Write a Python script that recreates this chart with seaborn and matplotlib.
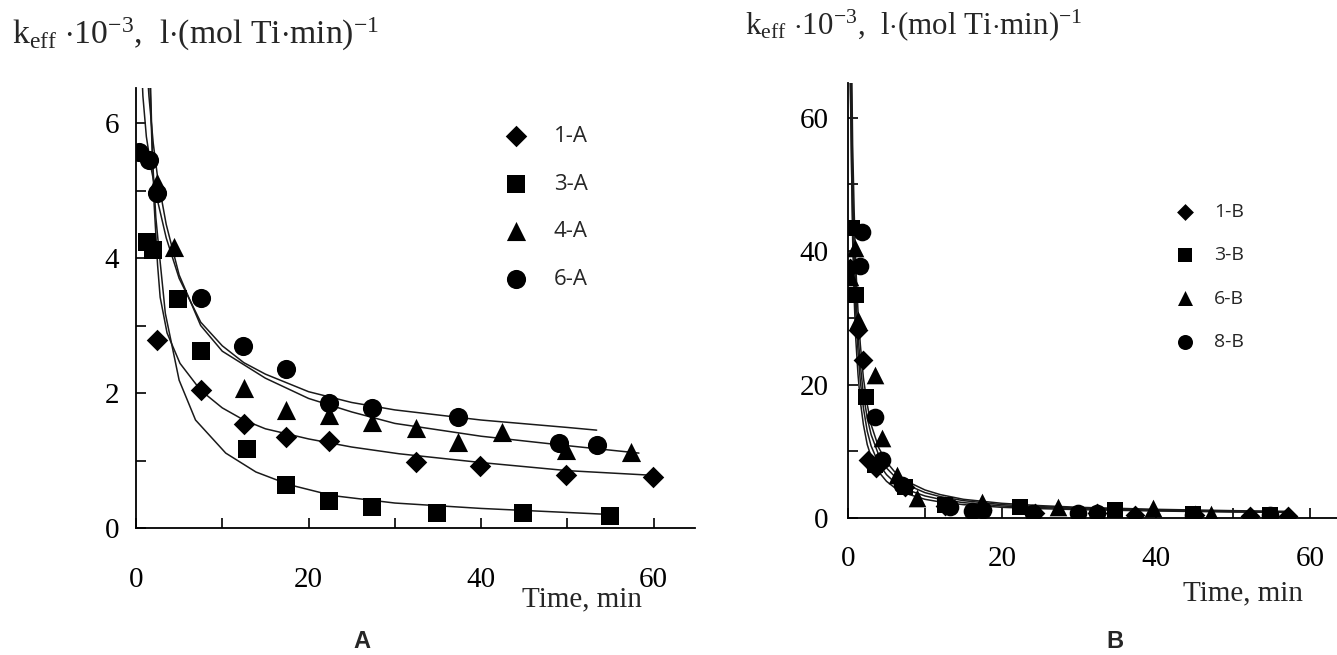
import numpy as np
import pandas as pd
import seaborn as sns
import matplotlib.pyplot as plt
from matplotlib.ticker import MultipleLocator

sns.set_theme(style="white")
plt.rcParams['font.family'] = ['Liberation Serif', 'DejaVu Serif']
plt.rcParams['mathtext.fontset'] = 'custom'
plt.rcParams['mathtext.rm'] = 'Liberation Serif'
plt.rcParams['mathtext.it'] = 'Liberation Serif:italic'

# ---------------- Panel A data (points) ----------------
t_1A = [2.4, 7.5, 12.5, 17.4, 22.4, 32.4, 39.9, 49.9, 59.9]
k_1A = [2.79, 2.04, 1.54, 1.35, 1.29, 0.98, 0.92, 0.79, 0.76]
t_3A = [1.3, 2.0, 4.9, 7.5, 12.9, 17.4, 22.4, 27.4, 34.9, 44.9, 54.9]
k_3A = [4.24, 4.12, 3.39, 2.62, 1.17, 0.64, 0.40, 0.31, 0.22, 0.22, 0.18]
t_4A = [2.4, 4.4, 12.5, 17.4, 22.4, 27.3, 32.4, 37.3, 42.4, 49.8, 57.4]
k_4A = [5.11, 4.17, 2.07, 1.75, 1.67, 1.57, 1.48, 1.27, 1.42, 1.16, 1.13]
t_6A = [0.3, 1.5, 2.4, 7.5, 12.4, 17.4, 22.4, 27.4, 37.3, 49.0, 53.4]
k_6A = [5.57, 5.45, 4.96, 3.41, 2.69, 2.35, 1.85, 1.78, 1.64, 1.26, 1.23]

# Panel A fitted curves
ft_1A = [1.6, 1.8, 2.1, 2.5, 2.8, 3.6, 5.1, 7.5, 10, 12.5, 15, 20, 25, 30.5, 40, 50, 60]
fk_1A = [7.0, 6.0, 4.8, 3.9, 3.42, 2.89, 2.44, 2.04, 1.78, 1.60, 1.47, 1.32, 1.20, 1.10, 0.97, 0.85, 0.78]
ft_3A = [1.5, 1.9, 2.3, 2.7, 3.4, 5.0, 6.9, 10.4, 13.9, 17.8, 22.8, 30, 40, 50, 55]
fk_3A = [7.0, 5.5, 4.6, 4.07, 3.18, 2.19, 1.60, 1.11, 0.83, 0.64, 0.48, 0.37, 0.29, 0.23, 0.20]
ft_4A = [1.2, 1.5, 2.0, 2.5, 3.5, 5, 7.5, 10, 12.5, 15, 20, 25, 30, 40, 50, 58.3]
fk_4A = [7.0, 6.4, 5.7, 5.2, 4.5, 3.75, 3.0, 2.62, 2.42, 2.22, 1.92, 1.72, 1.55, 1.36, 1.22, 1.11]
ft_6A = [0.6, 0.8, 1.2, 1.8, 2.5, 3.5, 5, 7.5, 10, 12.5, 15, 20, 25, 30, 40, 50, 53.4]
fk_6A = [7.0, 6.4, 5.8, 5.3, 4.85, 4.3, 3.7, 3.05, 2.7, 2.45, 2.28, 2.02, 1.86, 1.75, 1.60, 1.49, 1.45]

# ---------------- Panel B data (points) ----------------
t_1B = [0.2, 1.3, 2.0, 2.6, 3.7, 7.4, 12.6, 17.4, 24.3, 32.3, 37.3, 45.0, 52.2, 57.1]
k_1B = [37.5, 28.2, 23.7, 8.7, 7.5, 4.7, 1.8, 1.2, 0.7, 0.75, 0.45, 0.5, 0.3, 0.3]
t_3B = [0.5, 1.0, 2.4, 3.5, 7.4, 12.6, 22.3, 34.7, 44.8, 54.8]
k_3B = [43.5, 33.4, 18.2, 8.0, 4.7, 1.95, 1.7, 1.2, 0.6, 0.4]
t_6B = [0.2, 0.9, 1.3, 3.5, 4.4, 6.3, 8.9, 17.4, 27.3, 39.6, 47.2]
k_6B = [36.1, 40.5, 29.7, 21.5, 12.0, 6.5, 3.0, 2.4, 1.7, 1.5, 0.6]
t_8B = [1.8, 1.6, 3.5, 4.4, 7.0, 13.2, 16.1, 17.5, 24.0, 29.9, 32.3, 44.8, 54.8]
k_8B = [42.9, 37.8, 15.2, 8.7, 5.0, 1.7, 1.0, 1.2, 0.8, 0.75, 0.75, 0.45, 0.4]

# Panel B fitted curves
ft_1B = [0.4, 0.6, 0.8, 1, 1.3, 1.6, 2, 2.5, 3, 4, 5, 6, 7, 8, 10, 12, 15, 20, 25, 30, 40, 50, 57]
fk_1B = [66, 50, 41, 34, 27.5, 23, 18.5, 15, 12.5, 9.4, 7.5, 6.3, 5.4, 4.8, 3.8, 3.2, 2.6, 2.0, 1.7, 1.5, 1.2, 1.0, 0.9]
ft_3B = [0.25, 0.4, 0.6, 0.8, 1, 1.3, 1.6, 2, 2.5, 3, 4, 5, 6, 7, 8, 10, 12, 15, 20, 25, 30, 40, 50, 57]
fk_3B = [68, 58, 42, 33, 27, 21.5, 17.5, 14, 11, 9.2, 6.9, 5.5, 4.6, 4.0, 3.5, 2.8, 2.4, 2.0, 1.6, 1.4, 1.25, 1.05, 0.9, 0.85]
ft_6B = [0.5, 0.6, 0.8, 1, 1.3, 1.6, 2, 2.5, 3, 4, 5, 6, 7, 8, 10, 12, 15, 20, 25, 30, 40, 50, 57]
fk_6B = [66, 56, 46, 38, 31, 26, 21, 17, 14, 10.5, 8.4, 7.0, 6.0, 5.3, 4.2, 3.5, 2.8, 2.2, 1.85, 1.6, 1.3, 1.1, 1.0]
ft_8B = [0.3, 0.5, 0.7, 1, 1.3, 1.6, 2, 2.5, 3, 4, 5, 6, 7, 8, 10, 12, 15, 20, 25, 30, 40, 50, 57]
fk_8B = [67, 50, 40, 31, 25, 20.5, 16.5, 13, 10.8, 8.1, 6.5, 5.4, 4.7, 4.1, 3.3, 2.8, 2.3, 1.8, 1.55, 1.4, 1.15, 0.95, 0.88]

labels_A = ['1-A', '3-A', '4-A', '6-A']
labels_B = ['1-B', '3-B', '6-B', '8-B']
markers = ['D', 's', '^', 'o']
msizes = [120, 150, 190, 190]

pts_A = [(t_1A, k_1A), (t_3A, k_3A), (t_4A, k_4A), (t_6A, k_6A)]
fit_A = [(ft_1A, fk_1A), (ft_3A, fk_3A), (ft_4A, fk_4A), (ft_6A, fk_6A)]
pts_B = [(t_1B, k_1B), (t_3B, k_3B), (t_6B, k_6B), (t_8B, k_8B)]
fit_B = [(ft_1B, fk_1B), (ft_3B, fk_3B), (ft_6B, fk_6B), (ft_8B, fk_8B)]

W, H = 1337, 655
fig = plt.figure(figsize=(W / 100, H / 100), dpi=100)
fig.patch.set_facecolor('white')

def px_axes(l, t, r, b):
    return fig.add_axes([l / W, 1 - b / H, (r - l) / W, (b - t) / H])

axA = px_axes(136, 88, 695, 528)
axB = px_axes(848, 83, 1337, 518)

def draw(ax, pts, fits, labels, msz_scale):
    for (ft, fk) in fits:
        d = pd.DataFrame({'t': ft, 'k': fk})
        sns.lineplot(data=d, x='t', y='k', ax=ax, color='#1a1a1a', lw=1.1,
                     sort=False, estimator=None, zorder=2)
    for (t, k), lab, m, s in zip(pts, labels, markers, msizes):
        d = pd.DataFrame({'t': t, 'k': k})
        sns.scatterplot(data=d, x='t', y='k', ax=ax, marker=m, s=s * msz_scale,
                        color='black', edgecolor='black', linewidth=0,
                        label=lab, zorder=3, clip_on=True)
    for sp in ['top', 'right']:
        ax.spines[sp].set_visible(False)
    for sp in ['left', 'bottom']:
        ax.spines[sp].set_color('black')
        ax.spines[sp].set_linewidth(1.3)
    ax.set_facecolor('white')
    ax.set_xlabel('')
    ax.set_ylabel('')

draw(axA, pts_A, fit_A, labels_A, 1.0)
draw(axB, pts_B, fit_B, labels_B, 0.85)

# Axis A
axA.set_xlim(0, 64.8)
axA.set_ylim(0, 6.52)
axA.xaxis.set_major_locator(MultipleLocator(20))
axA.xaxis.set_minor_locator(MultipleLocator(10))
axA.yaxis.set_major_locator(MultipleLocator(2))
axA.yaxis.set_minor_locator(MultipleLocator(1))
axA.tick_params(axis='both', which='both', direction='in', length=7, width=1.2,
                colors='black', labelsize=21)
axA.tick_params(axis='x', which='both', pad=28, bottom=True)
axA.tick_params(axis='y', which='both', pad=12, left=True)

# Axis B
axB.set_xlim(0, 63.5)
axB.set_ylim(0, 65.2)
axB.xaxis.set_major_locator(MultipleLocator(20))
axB.xaxis.set_minor_locator(MultipleLocator(10))
axB.yaxis.set_major_locator(MultipleLocator(20))
axB.yaxis.set_minor_locator(MultipleLocator(10))
axB.tick_params(axis='both', which='both', direction='in', length=7, width=1.2,
                colors='black', labelsize=21)
axB.tick_params(axis='x', which='both', pad=20, bottom=True)
axB.tick_params(axis='y', which='both', pad=14, left=True)

for ax in (axA, axB):
    ax.tick_params(axis='x', which='minor', labelbottom=False)
    ax.tick_params(axis='y', which='minor', labelleft=False)

axA.set_xlabel('Time, min', fontsize=21)
axA.xaxis.set_label_coords((582 - 136) / 559, (528 - 586) / 440)
axB.set_xlabel('Time, min', fontsize=21)
axB.xaxis.set_label_coords((1243 - 848) / 489, (518 - 580) / 435)

# Legends
hA, lA = axA.get_legend_handles_labels()
axA.legend(hA, lA, loc='upper left', bbox_to_anchor=(505 / W, 1 - 126 / H),
           bbox_transform=fig.transFigure, frameon=False, borderpad=0,
           borderaxespad=0, handlelength=1.0, handletextpad=1.2,
           labelspacing=1.2, prop={'family': 'Open Sans', 'size': 16},
           markerscale=1.0)
hB, lB = axB.get_legend_handles_labels()
axB.legend(hB, lB, loc='upper left', bbox_to_anchor=(1177 / W, 1 - 203 / H),
           bbox_transform=fig.transFigure, frameon=False, borderpad=0,
           borderaxespad=0, handlelength=0.8, handletextpad=1.1,
           labelspacing=1.3, prop={'family': 'Open Sans', 'size': 14},
           markerscale=0.85)

# Titles (y-axis quantity)
ylab = r'k$_{\mathrm{eff}}$ $\cdot$10$^{\mathrm{-3}}$,  l$\cdot$(mol Ti$\cdot$min)$^{\mathrm{-1}}$'
fig.text(12 / W, 1 - 44 / H, ylab, fontsize=24.3, ha='left', va='baseline')
fig.text(745 / W, 1 - 34 / H, ylab, fontsize=22.3, ha='left', va='baseline')

# Panel letters
fig.text(362 / W, 1 - 641 / H, 'A', fontsize=17, fontweight='bold',
         family='Liberation Sans', ha='center', va='center')
fig.text(1115 / W, 1 - 641 / H, 'B', fontsize=17, fontweight='bold',
         family='Liberation Sans', ha='center', va='center')

fig.savefig('out.png', dpi=100, facecolor='white')
